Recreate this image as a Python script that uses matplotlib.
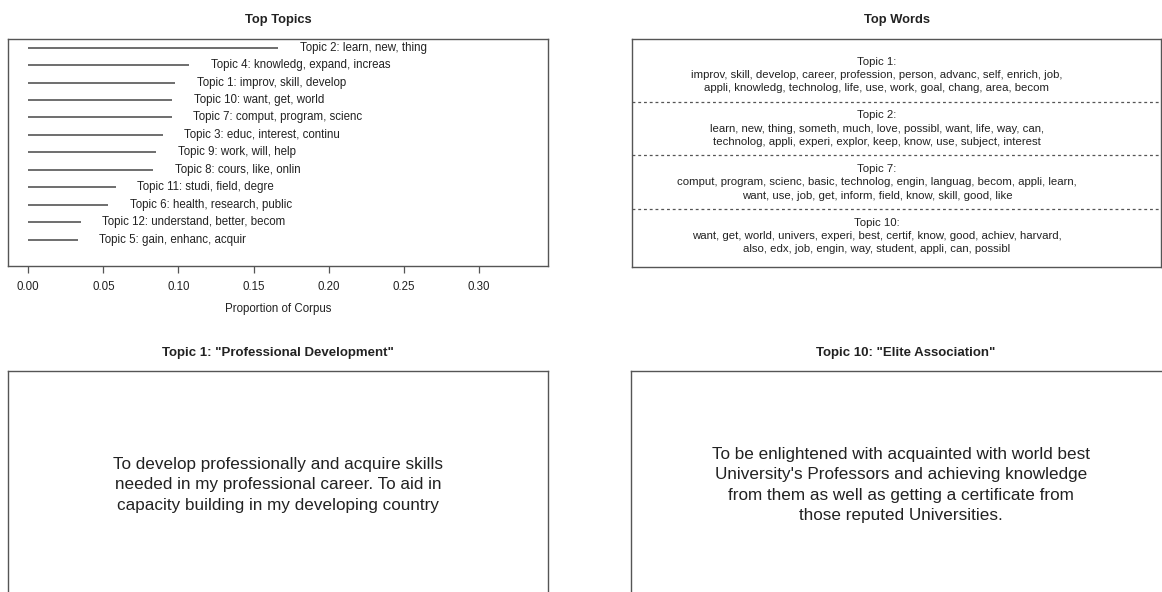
import matplotlib
matplotlib.use("Agg")
import matplotlib.pyplot as plt

plt.rcParams['font.family'] = ['Liberation Sans', 'DejaVu Sans']

# ---------------- data ----------------
topic_labels = [
    "Topic 2: learn, new, thing",
    "Topic 4: knowledg, expand, increas",
    "Topic 1: improv, skill, develop",
    "Topic 10: want, get, world",
    "Topic 7: comput, program, scienc",
    "Topic 3: educ, interest, continu",
    "Topic 9: work, will, help",
    "Topic 8: cours, like, onlin",
    "Topic 11: studi, field, degre",
    "Topic 6: health, research, public",
    "Topic 12: understand, better, becom",
    "Topic 5: gain, enhanc, acquir",
]
topic_props = [0.1663, 0.1071, 0.0978, 0.0960, 0.0956, 0.0896,
               0.0851, 0.0833, 0.0582, 0.0533, 0.0349, 0.0329]
x_ticks = [0.00, 0.05, 0.10, 0.15, 0.20, 0.25, 0.30]

word_headers = ["Topic 1:", "Topic 2:", "Topic 7:", "Topic 10:"]
word_lines = [
    "improv, skill, develop, career, profession, person, advanc, self, enrich, job,\n"
    "appli, knowledg, technolog, life, use, work, goal, chang, area, becom",
    "learn, new, thing, someth, much, love, possibl, want, life, way, can,\n"
    "technolog, appli, experi, explor, keep, know, use, subject, interest",
    "comput, program, scienc, basic, technolog, engin, languag, becom, appli, learn,\n"
    "want, use, job, get, inform, field, know, skill, good, like",
    "want, get, world, univers, experi, best, certif, know, good, achiev, harvard,\n"
    "also, edx, job, engin, way, student, appli, can, possibl",
]

quote_titles = ['Topic 1: "Professional Development"', 'Topic 10: "Elite Association"']
quote_texts = [
    "To develop professionally and acquire skills\n"
    "needed in my professional career. To aid in\n"
    "capacity building in my developing country",
    "To be enlightened with acquainted with world best\n"
    "University's Professors and achieving knowledge\n"
    "from them as well as getting a certificate from\n"
    "those reputed Universities.",
]

# ---------------- figure ----------------
W, H = 1162, 592
fig = plt.figure(figsize=(W / 100, H / 100), dpi=100)
TXT = '#222222'
BOX = '#555555'


def px_axes(x0, y0, x1, y1):
    return fig.add_axes([x0 / W, 1 - y1 / H, (x1 - x0) / W, (y1 - y0) / H])


def style_box(ax):
    for s in ax.spines.values():
        s.set_color(BOX)
        s.set_linewidth(1.0)


# --- Top Topics ---
ax1 = px_axes(8.3, 39.3, 547.7, 265.5)
style_box(ax1)
n = len(topic_labels)
xmax = 2 * max(topic_props)
for i, (lab, v) in enumerate(zip(topic_labels, topic_props)):
    y = n - i
    ax1.plot([0, v], [y, y], color='#555555', lw=1.2, solid_capstyle='butt')
    ax1.annotate(lab, xy=(v, y), xytext=(15.5, 0), textcoords='offset points',
                 ha='left', va='center', fontsize=8.3, color=TXT)
ax1.set_xlim(-0.04 * xmax, 1.04 * xmax)
ax1.set_ylim(-0.04 * n, 1.04 * n)
ax1.set_yticks([])
ax1.set_xticks(x_ticks)
ax1.set_xticklabels([f"{t:.2f}" for t in x_ticks])
ax1.tick_params(axis='x', length=5, width=0.9, color=BOX, pad=6.5,
                labelsize=8.3, labelcolor=TXT)
ax1.set_xlabel("Proportion of Corpus", fontsize=8.3, color=TXT, labelpad=7)
ax1.set_title("Top Topics", fontsize=9.3, fontweight='bold', color=TXT, pad=12)

# --- Top Words ---
ax2 = px_axes(632, 39.3, 1161, 266.7)
style_box(ax2)
m = len(word_headers)
ax2.set_xlim(0, 1)
ax2.set_ylim(0.428, m + 0.665)
for i, (hd, wl) in enumerate(zip(word_headers, word_lines)):
    y = m - i
    ax2.text(0.463, y, hd + "\n" + wl, ha='center', va='center', fontsize=8.2,
             color=TXT, linespacing=1.42, multialignment='center')
    if i < m - 1:
        ax2.axhline(y - 0.5, color='#555555', lw=0.9, ls=(0, (2.3, 2.3)))
ax2.set_xticks([])
ax2.set_yticks([])
ax2.set_title("Top Words", fontsize=9.3, fontweight='bold', color=TXT, pad=12)

# --- Quote panels ---
ax3 = px_axes(8.3, 371, 547.7, 610)
ax4 = px_axes(631, 371, 1180, 610)
for ax, ttl, qt, cx in [(ax3, quote_titles[0], quote_texts[0], 0.5),
                        (ax4, quote_titles[1], quote_texts[1], (901 - 631) / (1180 - 631))]:
    style_box(ax)
    ax.set_xlim(0, 1)
    ax.set_ylim(0, 1)
    ax.set_xticks([])
    ax.set_yticks([])
    ycen = 1 - (485 - 371) / (610 - 371)
    ax.text(cx, ycen, qt, ha='center', va='center', fontsize=12.3, color=TXT,
            linespacing=1.45, multialignment='center')
    ax.set_title(ttl, fontsize=9.5, fontweight='bold', color=TXT, pad=11)

fig.savefig("out.png", dpi=100)
